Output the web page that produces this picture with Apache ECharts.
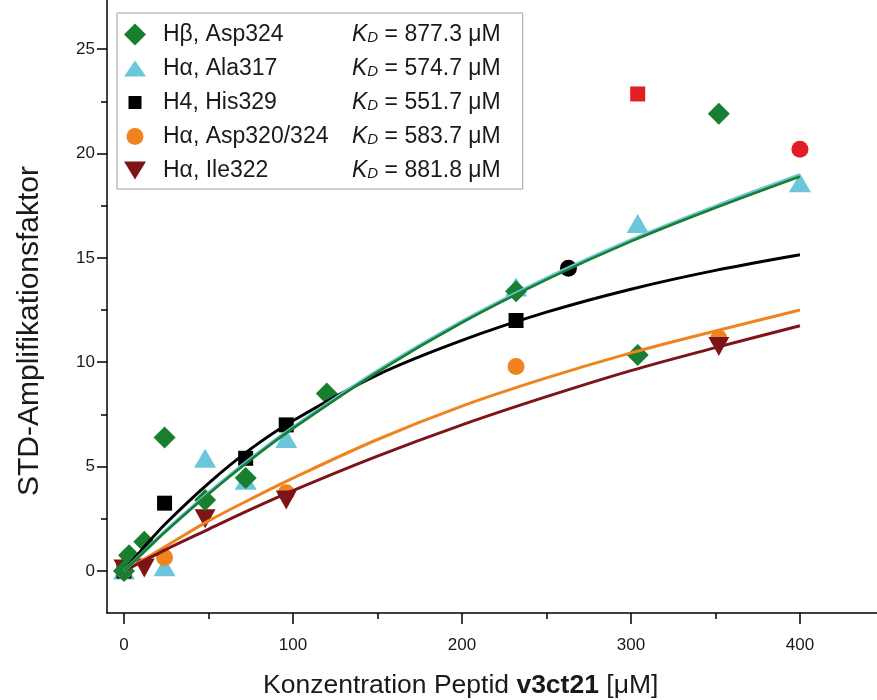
<!DOCTYPE html>
<html>
<head>
<meta charset="utf-8">
<script src="https://cdn.jsdelivr.net/npm/echarts@6/dist/echarts.min.js"></script>
<style>
  html, body { margin: 0; padding: 0; background: #ffffff; }
  #chart { width: 877px; height: 700px; }
</style>
</head>
<body>
<div id="chart"></div>
<script>
const FONT = '"Liberation Sans", Arial, Helvetica, sans-serif';

// Measured STD amplification factors: [peptide concentration (µM), factor]
const hbAsp324 = [[0, 0], [3, 0.75], [12, 1.4], [24, 6.4], [48, 3.4], [72, 4.45], [120, 8.5], [232, 13.4], [304, 10.35], [352, 21.9]];
const haAla317 = [[0, 0.05], [24, 0.2], [48, 5.4], [72, 4.35], [96, 6.35], [232, 13.6], [304, 16.65], [400, 18.6]];
const h4His329 = [[0, 0], [24, 3.25], [72, 5.4], [96, 7.0], [232, 12.0]];
const haAsp320 = [[0, 0], [3, 0.7], [24, 0.65], [96, 3.75], [232, 9.8], [352, 11.15]];
const haIle322 = [[0, 0.1], [12, 0.15], [48, 2.5], [96, 3.4], [352, 10.75]];

// Points left out of the fits
const outlierBlackCircle = [[263, 14.5]];
const outlierRedSquare = [[304, 22.85]];
const outlierRedCircle = [[400, 20.2]];

// Fitted binding curves, sampled at these concentrations
const fitX = [0, 12.5, 25, 50, 75, 100, 150, 200, 250, 300, 350, 400];
const fitHbAsp324 = [0, 0.97, 1.92, 3.69, 5.33, 6.83, 9.53, 11.9, 13.96, 15.79, 17.4, 18.9];
const fitHaAla317 = [0, 0.98, 1.95, 3.73, 5.38, 6.88, 9.58, 11.95, 14.02, 15.85, 17.47, 18.97];
const fitH4His329 = [0, 1.2, 2.3, 4.2, 5.85, 7.2, 9.4, 11.05, 12.4, 13.5, 14.4, 15.15];
const fitHaAsp320 = [0, 0.6, 1.2, 2.4, 3.45, 4.45, 6.3, 7.9, 9.25, 10.45, 11.5, 12.5];
const fitHaIle322 = [0, 0.52, 1.04, 2.0, 2.95, 3.85, 5.5, 7.0, 8.35, 9.6, 10.7, 11.75];

// Legend rows: name and dissociation constant
const seriesNames = ['Hβ, Asp324', 'Hα, Ala317', 'H4, His329', 'Hα, Asp320/324', 'Hα, Ile322'];
const kdValues = ['877.3', '574.7', '551.7', '583.7', '881.8'];

const xMajorTicks = [0, 100, 200, 300, 400];
const xMinorTicks = [50, 150, 250, 350];
const yMajorTicks = [0, 5, 10, 15, 20, 25];
const yMinorTicks = [2.5, 7.5, 12.5, 17.5, 22.5];

const COLORS = {
  green: '#177f2f',
  cyan: '#6cc6d9',
  black: '#000000',
  orange: '#ef831f',
  maroon: '#7c1418',
  red: '#e31d25'
};

const DOWN_TRIANGLE = 'path://M0,0 L20,0 L10,18 Z';
// Legend icons drawn inside a 22x22 box (the two corner moves fix the box)
const LEGEND_DIAMOND = 'path://M0,0 M22,22 M11,0 L22,11 L11,22 L0,11 Z';
const LEGEND_TRIANGLE = 'path://M0,0 M22,22 M0,19 L22,19 L11,3 Z';
const LEGEND_SQUARE = 'path://M0,0 M22,22 M4.5,4.5 L17.5,4.5 L17.5,17.5 L4.5,17.5 Z';
const LEGEND_CIRCLE = 'path://M0,0 M22,22 M2.5,11 A8.5,8.5 0 1,0 19.5,11 A8.5,8.5 0 1,0 2.5,11 Z';
const LEGEND_DOWN = 'path://M0,0 M22,22 M0,2 L22,2 L11,20 Z';

const pair = (xs, ys) => xs.map((x, i) => [x, ys[i]]);

const xRange = { min: -10.06, max: 445.6 };
const yRange = { min: -2.01, max: 27.35 };
const gridBox = { left: 107, right: 0, top: 0, bottom: 87 };

function scatter(name, data, symbol, size, color, z) {
  return {
    name, type: 'scatter', data, symbol, symbolSize: size,
    itemStyle: { color, opacity: 1 },
    z, xAxisIndex: 0, yAxisIndex: 0, emphasis: { disabled: true }
  };
}

function fitLine(name, ys, color, width, z) {
  return {
    name, type: 'line', data: pair(fitX, ys), smooth: 0.35, symbol: 'none',
    lineStyle: { color, width }, z, xAxisIndex: 0, yAxisIndex: 0,
    emphasis: { disabled: true }
  };
}

const chart = echarts.init(document.getElementById('chart'), null, { renderer: 'canvas' });

const option = {
  animation: false,
  backgroundColor: '#ffffff',
  grid: [
    Object.assign({}, gridBox),
    Object.assign({}, gridBox)
  ],
  xAxis: [
    {
      type: 'value', gridIndex: 0, min: xRange.min, max: xRange.max,
      axisLine: { show: true, onZero: false, lineStyle: { color: '#000', width: 1.5 } },
      axisTick: { show: true, inside: false, length: 11, customValues: xMajorTicks, lineStyle: { color: '#000', width: 1.5 } },
      axisLabel: { show: true, customValues: xMajorTicks, margin: 24, fontFamily: FONT, fontSize: 17, color: '#1a1a1a' },
      splitLine: { show: false }
    },
    {
      type: 'value', gridIndex: 1, min: xRange.min, max: xRange.max,
      axisLine: { show: false, onZero: false },
      axisTick: { show: true, inside: false, length: 6, customValues: xMinorTicks, lineStyle: { color: '#000', width: 1.5 } },
      axisLabel: { show: false },
      splitLine: { show: false }
    }
  ],
  yAxis: [
    {
      type: 'value', gridIndex: 0, min: yRange.min, max: yRange.max,
      axisLine: { show: true, onZero: false, lineStyle: { color: '#000', width: 1.5 } },
      axisTick: { show: true, inside: false, length: 10, customValues: yMajorTicks, lineStyle: { color: '#000', width: 1.5 } },
      axisLabel: { show: true, customValues: yMajorTicks, margin: 12, fontFamily: FONT, fontSize: 17, color: '#1a1a1a' },
      splitLine: { show: false }
    },
    {
      type: 'value', gridIndex: 1, min: yRange.min, max: yRange.max,
      axisLine: { show: false, onZero: false },
      axisTick: { show: true, inside: false, length: 6, customValues: yMinorTicks, lineStyle: { color: '#000', width: 1.5 } },
      axisLabel: { show: false },
      splitLine: { show: false }
    }
  ],
  legend: {
    orient: 'vertical',
    left: 117, top: 13,
    padding: [10, 22, 7, 7],
    itemWidth: 22, itemHeight: 22, itemGap: 11,
    backgroundColor: '#ffffff',
    borderColor: '#a0a0a0', borderWidth: 1,
    selectedMode: false,
    data: [
      { name: seriesNames[0], icon: LEGEND_DIAMOND },
      { name: seriesNames[1], icon: LEGEND_TRIANGLE },
      { name: seriesNames[2], icon: LEGEND_SQUARE },
      { name: seriesNames[3], icon: LEGEND_CIRCLE },
      { name: seriesNames[4], icon: LEGEND_DOWN }
    ],
    formatter: function (name) {
      const kd = kdValues[seriesNames.indexOf(name)];
      return '{g|}{n|' + name + '}{k|K}{d|D}{v| = ' + kd + ' μM}';
    },
    textStyle: {
      fontFamily: FONT, fontSize: 23, color: '#1a1a1a', lineHeight: 22,
      rich: {
        g: { width: 12, fontFamily: FONT, fontSize: 23 },
        n: { width: 189, fontFamily: FONT, fontSize: 23, color: '#1a1a1a' },
        k: { fontFamily: FONT, fontSize: 23, fontStyle: 'italic', color: '#1a1a1a' },
        d: { fontFamily: FONT, fontSize: 15, fontStyle: 'italic', color: '#1a1a1a', verticalAlign: 'bottom', padding: [11, 0, 0, 0] },
        v: { fontFamily: FONT, fontSize: 23, color: '#1a1a1a' }
      }
    }
  },
  graphic: [
    {
      type: 'text', left: 263, top: 672, silent: true,
      style: {
        text: '{a|Konzentration Peptid }{b|v3ct21}{a| [μM]}',
        rich: {
          a: { fontFamily: FONT, fontSize: 26.5, fill: '#1a1a1a' },
          b: { fontFamily: FONT, fontSize: 26.5, fontWeight: 'bold', fill: '#1a1a1a' }
        }
      }
    },
    {
      type: 'text', x: 30, y: 331, rotation: Math.PI / 2, silent: true,
      style: {
        text: 'STD-Amplifikationsfaktor',
        font: '30px ' + FONT, fill: '#1a1a1a',
        align: 'center', verticalAlign: 'middle',
        textAlign: 'center', textVerticalAlign: 'middle'
      }
    }
  ],
  series: [
    scatter(seriesNames[1], haAla317, 'triangle', [22, 19], COLORS.cyan, 2),
    scatter(seriesNames[2], h4His329, 'rect', 15, COLORS.black, 2),
    scatter('H4, His329 (ausgeschlossen)', outlierBlackCircle, 'circle', 17, COLORS.black, 2),
    scatter('H4, His329 (Ausreißer)', outlierRedSquare, 'rect', 15, COLORS.red, 2),
    scatter(seriesNames[3], haAsp320, 'circle', 17, COLORS.orange, 2),
    scatter('Hα, Asp320/324 (Ausreißer)', outlierRedCircle, 'circle', 17, COLORS.red, 2),
    scatter(seriesNames[4], haIle322, DOWN_TRIANGLE, [21, 19], COLORS.maroon, 2),
    scatter(seriesNames[0], hbAsp324, 'diamond', 22, COLORS.green, 2),
    fitLine('Fit H4, His329', fitH4His329, COLORS.black, 3, 3),
    fitLine('Fit Hα, Asp320/324', fitHaAsp320, COLORS.orange, 3, 3),
    fitLine('Fit Hα, Ile322', fitHaIle322, COLORS.maroon, 3, 3),
    fitLine('Fit Hα, Ala317', fitHaAla317, COLORS.cyan, 3.5, 3),
    fitLine('Fit Hβ, Asp324', fitHbAsp324, COLORS.green, 2.6, 3)
  ]
};

chart.setOption(option);
</script>
</body>
</html>
